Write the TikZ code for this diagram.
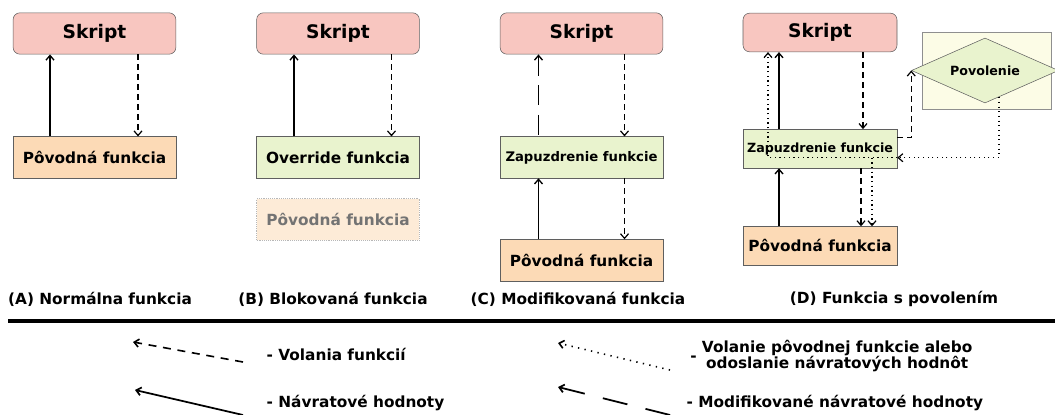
\documentclass[tikz,border=0pt]{standalone}
\usepackage{fontspec}
\setmainfont{DejaVu Sans}
\usetikzlibrary{shapes.geometric, arrows.meta, positioning, calc}
\definecolor{skriptpink}{RGB}{248,198,192}
\definecolor{origpeach}{RGB}{252,218,182}
\definecolor{wrapgreen}{RGB}{233,243,206}
\definecolor{permyellow}{RGB}{252,252,230}
\definecolor{boxgray}{RGB}{95,95,95}

\tikzset{
  skriptbox/.style={draw=boxgray, fill=skriptpink, rounded corners=5pt, minimum width=122pt, minimum height=31pt, inner sep=0pt, font=\bfseries\fontsize{14}{16}\selectfont},
  funcbox/.style={draw=boxgray, minimum width=122pt, minimum height=31pt, inner sep=0pt, font=\bfseries\fontsize{11.5}{13}\selectfont},
  smallbox/.style={minimum width=115.5pt, minimum height=29pt},
  caption/.style={font=\bfseries\fontsize{11.5}{13.5}\selectfont},
  tip/.style={-{Straight Barb[length=3.5pt, width=6pt]}},
  revtip/.style={{Straight Barb[length=3.5pt, width=6pt]}-},
  retarrow/.style={tip, line width=1pt},
  callarrow/.style={tip, line width=0.9pt, dash pattern=on 4.5pt off 3pt},
  modarrow/.style={revtip, line width=1pt, dash pattern=on 15pt off 7pt},
  origarrow/.style={tip, line width=0.9pt, dash pattern=on 0.9pt off 2.6pt}
}

\begin{document}
\begin{tikzpicture}[x=0.75pt, y=-0.75pt]
  \useasboundingbox (0,0) rectangle (1055,414);

  % (A) normal function
  \node[skriptbox] (skA) at (94.5,33.5) {Skript};
  \node[funcbox, fill=origpeach, below=61.5pt of skA] (pA) {Pôvodná funkcia};
  \draw[retarrow] ($(pA.north)+(-44.5,0)$) -- ($(skA.south)+(-44.5,0)$);
  \draw[callarrow] ($(skA.south)+(43.5,0)$) -- ($(pA.north)+(43.5,0)$);

  % (B) blocked function
  \node[skriptbox] (skB) at (338,33.5) {Skript};
  \node[funcbox, fill=wrapgreen, below=61.5pt of skB] (ovB) {Override funkcia};
  \node[funcbox, fill=origpeach!55, draw=boxgray!45, densely dotted, text=black!55, below=15pt of ovB] (pB) {Pôvodná funkcia};
  \draw[retarrow] ($(ovB.north)+(-44,0)$) -- ($(skB.south)+(-44,0)$);
  \draw[callarrow] ($(skB.south)+(53.5,0)$) -- ($(ovB.north)+(53.5,0)$);

  % (C) modified function
  \node[skriptbox] (skC) at (581.5,33.5) {Skript};
  \node[funcbox, fill=wrapgreen, font=\bfseries\fontsize{9.9}{12}\selectfont, below=61.5pt of skC] (zapC) {Zapuzdrenie funkcie};
  \node[funcbox, fill=origpeach, below=45.75pt of zapC] (pC) {Pôvodná funkcia};
  \draw[modarrow] ($(skC.south)+(-43,0)$) -- ($(zapC.north)+(-43,0)$);
  \draw[callarrow] ($(skC.south)+(43,0)$) -- ($(zapC.north)+(43,0)$);
  \draw[retarrow] ($(pC.north)+(-43,0)$) -- ($(zapC.south)+(-43,0)$);
  \draw[callarrow] ($(zapC.south)+(43,0)$) -- ($(pC.north)+(43,0)$);

  % (D) function with permission
  \node[skriptbox, smallbox] (skD) at (820,32.5) {Skript};
  \node[funcbox, smallbox, fill=wrapgreen, font=\bfseries\fontsize{9.5}{12}\selectfont, below=57.75pt of skD] (zapD) {Zapuzdrenie funkcie};
  \node[funcbox, smallbox, fill=origpeach, below=43.5pt of zapD] (pD) {Pôvodná funkcia};
  \node[draw=boxgray!70, fill=permyellow, minimum width=96.75pt, minimum height=57.75pt, inner sep=0pt] (permbox) at (986.5,70.5) {};
  \node[diamond, draw=boxgray, fill=wrapgreen, aspect=2.26, minimum width=110.25pt, minimum height=48.75pt, inner sep=0pt, font=\bfseries\fontsize{9.5}{12}\selectfont] (perm) at (985,70.5) {Povolenie};
  \draw[retarrow] ($(zapD.north)+(-41,0)$) -- ($(skD.south)+(-41,0)$);
  \draw[retarrow] ($(pD.north)+(-41,0)$) -- ($(zapD.south)+(-41,0)$);
  \draw[callarrow] ($(skD.south)+(43,0)$) -- ($(zapD.north)+(43,0)$);
  \draw[callarrow] ($(zapD.south)+(41,0)$) -- ($(pD.north)+(41,0)$);
  \draw[callarrow] ($(zapD.east)+(0,-11)$) -| (perm.west);
  \draw[origarrow] ($(perm.south)+(14,-6)$) |- ($(zapD.east)+(0,9)$);
  \draw[origarrow] ($(zapD.east)+(0,9)$) -| ($(skD.south)+(-52,0)$);
  \draw[origarrow] ($(zapD.center)+(52,9)$) -- ($(pD.north)+(52,0)$);

  % captions
  \node[caption] (capA) at (100,299) {(A) Normálna funkcia};
  \node[caption] (capB) at (333,299) {(B) Blokovaná funkcia};
  \node[caption] (capC) at (578,299) {(C) Modifikovaná funkcia};
  \node[caption] (capD) at (894,299) {(D) Funkcia s povolením};

  \coordinate (sepL) at (8,321);
  \coordinate (sepR) at (1055,321);
  \draw[line width=2.5pt] (sepL) -- (sepR);

  % legend
  \coordinate (callS) at (243,362);  \coordinate (callE) at (133,342);
  \coordinate (retS) at (243,415);   \coordinate (retE) at (135,390);
  \coordinate (origS) at (670,370);  \coordinate (origE) at (558,343);
  \coordinate (modS) at (690,420);   \coordinate (modE) at (558,387);
  \draw[tip, line width=1.2pt, dash pattern=on 6pt off 5pt] (callS) -- (callE);
  \draw[tip, line width=1.3pt] (retS) -- (retE);
  \draw[tip, line width=1.2pt, dash pattern=on 1pt off 4pt] (origS) -- (origE);
  \draw[revtip, line width=1.3pt, dash pattern=on 19pt off 14pt] (modE) -- (modS);
  \node[caption, anchor=west] (callT) at (262,354) {- Volania funkcií};
  \node[caption, anchor=west] (retT) at (262,403) {- Návratové hodnoty};
  \node[caption, anchor=west, inner sep=0pt] (origT) at (690,357) {-\ \begin{tabular}{@{}c@{}}Volanie pôvodnej funkcie alebo\\[-2pt] odoslanie návratových hodnôt\end{tabular}};
  \node[caption, anchor=west] (modT) at (682,403) {- Modifikované návratové hodnoty};
\end{tikzpicture}
\end{document}
